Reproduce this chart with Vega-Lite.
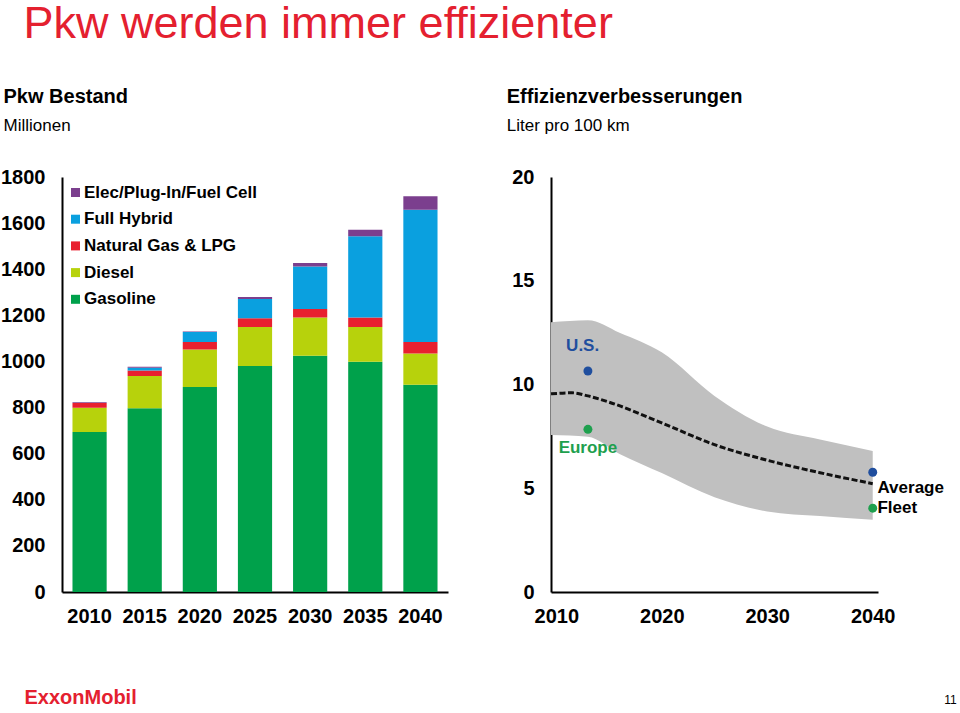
{
  "$schema": "https://vega.github.io/schema/vega-lite/v6.json",
  "background": "white",
  "padding": {"left": 0, "top": 2, "right": 0, "bottom": 0},
  "title": {
    "text": "Pkw werden immer effizienter",
    "anchor": "start",
    "font": "Liberation Sans",
    "fontSize": 45,
    "fontWeight": "normal",
    "color": "#E4202F",
    "dx": 23,
    "offset": 40
  },
  "spacing": 58,
  "resolve": {"scale": {"color": "independent"}, "legend": {"color": "independent"}},
  "hconcat": [
    {
      "width": 386,
      "height": 415,
      "title": {
        "text": "Pkw Bestand",
        "subtitle": "Millionen",
        "anchor": "start",
        "frame": "bounds",
        "font": "Liberation Sans",
        "fontSize": 20,
        "fontWeight": "bold",
        "color": "black",
        "subtitleFont": "Liberation Sans",
        "subtitleFontSize": 17,
        "subtitleColor": "black",
        "subtitlePadding": 11,
        "offset": 33,
        "dx": 3
      },
      "data": {
        "values": [
          {"year": "2010", "type": "Gasoline", "rank": 1, "value": 694},
          {"year": "2010", "type": "Diesel", "rank": 2, "value": 105},
          {"year": "2010", "type": "Natural Gas & LPG", "rank": 3, "value": 21},
          {"year": "2010", "type": "Full Hybrid", "rank": 4, "value": 0},
          {"year": "2010", "type": "Elec/Plug-In/Fuel Cell", "rank": 5, "value": 3},
          {"year": "2015", "type": "Gasoline", "rank": 1, "value": 797},
          {"year": "2015", "type": "Diesel", "rank": 2, "value": 140},
          {"year": "2015", "type": "Natural Gas & LPG", "rank": 3, "value": 24},
          {"year": "2015", "type": "Full Hybrid", "rank": 4, "value": 12},
          {"year": "2015", "type": "Elec/Plug-In/Fuel Cell", "rank": 5, "value": 4},
          {"year": "2020", "type": "Gasoline", "rank": 1, "value": 889},
          {"year": "2020", "type": "Diesel", "rank": 2, "value": 163},
          {"year": "2020", "type": "Natural Gas & LPG", "rank": 3, "value": 32},
          {"year": "2020", "type": "Full Hybrid", "rank": 4, "value": 44},
          {"year": "2020", "type": "Elec/Plug-In/Fuel Cell", "rank": 5, "value": 2},
          {"year": "2025", "type": "Gasoline", "rank": 1, "value": 980},
          {"year": "2025", "type": "Diesel", "rank": 2, "value": 169},
          {"year": "2025", "type": "Natural Gas & LPG", "rank": 3, "value": 38},
          {"year": "2025", "type": "Full Hybrid", "rank": 4, "value": 84},
          {"year": "2025", "type": "Elec/Plug-In/Fuel Cell", "rank": 5, "value": 8},
          {"year": "2030", "type": "Gasoline", "rank": 1, "value": 1025},
          {"year": "2030", "type": "Diesel", "rank": 2, "value": 166},
          {"year": "2030", "type": "Natural Gas & LPG", "rank": 3, "value": 36},
          {"year": "2030", "type": "Full Hybrid", "rank": 4, "value": 185},
          {"year": "2030", "type": "Elec/Plug-In/Fuel Cell", "rank": 5, "value": 15},
          {"year": "2035", "type": "Gasoline", "rank": 1, "value": 999},
          {"year": "2035", "type": "Diesel", "rank": 2, "value": 150},
          {"year": "2035", "type": "Natural Gas & LPG", "rank": 3, "value": 42},
          {"year": "2035", "type": "Full Hybrid", "rank": 4, "value": 352},
          {"year": "2035", "type": "Elec/Plug-In/Fuel Cell", "rank": 5, "value": 28},
          {"year": "2040", "type": "Gasoline", "rank": 1, "value": 899},
          {"year": "2040", "type": "Diesel", "rank": 2, "value": 136},
          {"year": "2040", "type": "Natural Gas & LPG", "rank": 3, "value": 49},
          {"year": "2040", "type": "Full Hybrid", "rank": 4, "value": 574},
          {"year": "2040", "type": "Elec/Plug-In/Fuel Cell", "rank": 5, "value": 59}
        ]
      },
      "mark": {"type": "bar"},
      "encoding": {
        "x": {
          "field": "year",
          "type": "ordinal",
          "scale": {"paddingInner": 0.38, "paddingOuter": 0.19},
          "axis": {
            "labelAngle": 0,
            "labelPadding": 14,
            "title": "ExxonMobil",
            "titleColor": "#E4202F",
            "titleFont": "Liberation Sans",
            "titleFontSize": 20,
            "titleFontWeight": "bold",
            "titleAnchor": "start",
            "titleAlign": "left",
            "titleBaseline": "alphabetic",
            "titleX": -38,
            "titleY": 111
          }
        },
        "y": {
          "field": "value",
          "type": "quantitative",
          "stack": "zero",
          "scale": {"domain": [0, 1800], "nice": false},
          "axis": {
            "values": [0, 200, 400, 600, 800, 1000, 1200, 1400, 1600, 1800],
            "format": "d",
            "title": null,
            "labelPadding": 17
          }
        },
        "color": {
          "field": "type",
          "type": "nominal",
          "scale": {
            "domain": ["Elec/Plug-In/Fuel Cell", "Full Hybrid", "Natural Gas & LPG", "Diesel", "Gasoline"],
            "range": ["#7B3F8E", "#0AA0DF", "#E8202F", "#B7D20C", "#00A14B"]
          },
          "legend": {
            "orient": "none",
            "legendX": 5,
            "legendY": 7,
            "title": null,
            "padding": 0,
            "symbolType": "square",
            "symbolSize": 81,
            "symbolStrokeWidth": 0,
            "symbolOpacity": 1,
            "labelFont": "Liberation Sans",
            "labelFontSize": 17,
            "labelFontWeight": "bold",
            "labelColor": "black",
            "labelOffset": 0,
            "rowPadding": 8.7,
            "labelLimit": 400
          }
        },
        "order": {"field": "rank", "type": "quantitative"}
      }
    },
    {
      "width": 327,
      "height": 415,
      "title": {
        "text": "Effizienzverbesserungen",
        "subtitle": "Liter pro 100 km",
        "anchor": "start",
        "frame": "bounds",
        "font": "Liberation Sans",
        "fontSize": 20,
        "fontWeight": "bold",
        "color": "black",
        "subtitleFont": "Liberation Sans",
        "subtitleFontSize": 17,
        "subtitleColor": "black",
        "subtitlePadding": 11,
        "offset": 33,
        "dx": -5
      },
      "encoding": {
        "x": {
          "field": "year",
          "type": "quantitative",
          "scale": {"domain": [2009.5, 2040.5], "nice": false, "zero": false},
          "axis": {
            "values": [2010, 2020, 2030, 2040],
            "format": "d",
            "labelPadding": 14,
            "labelFlush": false,
            "title": "11",
            "titleFont": "Liberation Sans",
            "titleFontSize": 12,
            "titleFontWeight": "normal",
            "titleColor": "black",
            "titleAlign": "center",
            "titleBaseline": "alphabetic",
            "titleX": 399,
            "titleY": 111
          }
        },
        "y": {
          "field": "value",
          "type": "quantitative",
          "scale": {"domain": [0, 20], "nice": false},
          "axis": {"values": [0, 5, 10, 15, 20], "title": null, "labelPadding": 17}
        }
      },
      "layer": [
        {
          "data": {
            "values": [
              {"year": 2009.5, "value": 13.0, "value2": 7.57},
              {"year": 2013, "value": 13.1, "value2": 7.48},
              {"year": 2016, "value": 12.5, "value2": 6.65},
              {"year": 2020, "value": 11.55, "value2": 5.73},
              {"year": 2025, "value": 9.45, "value2": 4.57},
              {"year": 2030, "value": 7.97, "value2": 3.88},
              {"year": 2035, "value": 7.35, "value2": 3.66},
              {"year": 2040, "value": 6.8, "value2": 3.48}
            ]
          },
          "mark": {"type": "area", "color": "#C0C0C0", "opacity": 1, "interpolate": "monotone"},
          "encoding": {"y2": {"field": "value2"}}
        },
        {
          "data": {
            "values": [
              {"year": 2009.5, "value": 9.55},
              {"year": 2011.5, "value": 9.6},
              {"year": 2013, "value": 9.45},
              {"year": 2015, "value": 9.15},
              {"year": 2020, "value": 8.15},
              {"year": 2025, "value": 7.1},
              {"year": 2030, "value": 6.35},
              {"year": 2035, "value": 5.75},
              {"year": 2040, "value": 5.22}
            ]
          },
          "mark": {"type": "line", "color": "#111111", "strokeWidth": 3, "strokeDash": [6, 2.5], "interpolate": "monotone"},
          "encoding": {}
        },
        {
          "data": {
            "values": [
              {"year": 2013, "value": 10.65, "region": "U.S."},
              {"year": 2013, "value": 7.84, "region": "Europe"},
              {"year": 2040, "value": 5.77, "region": "U.S."},
              {"year": 2040, "value": 4.04, "region": "Europe"}
            ]
          },
          "mark": {"type": "point", "filled": true, "size": 80, "opacity": 1},
          "encoding": {
            "color": {
              "field": "region",
              "type": "nominal",
              "scale": {"domain": ["U.S.", "Europe"], "range": ["#1F4E9E", "#1EA04E"]},
              "legend": null
            }
          }
        },
        {
          "data": {
            "values": [
              {"year": 2012.5, "value": 11.85, "region": "U.S.", "label": "U.S."},
              {"year": 2013, "value": 6.93, "region": "Europe", "label": "Europe"}
            ]
          },
          "mark": {"type": "text", "font": "Liberation Sans", "fontSize": 17, "fontWeight": "bold"},
          "encoding": {
            "text": {"field": "label"},
            "color": {"field": "region", "type": "nominal", "legend": null}
          }
        },
        {
          "data": {
            "values": [
              {"year": 2040.45, "value": 5.0, "label": "Average"},
              {"year": 2040.45, "value": 4.04, "label": "Fleet"}
            ]
          },
          "mark": {"type": "text", "font": "Liberation Sans", "fontSize": 17, "fontWeight": "bold", "align": "left", "color": "black"},
          "encoding": {"text": {"field": "label"}}
        }
      ]
    }
  ],
  "config": {
    "view": {"stroke": null},
    "font": "Liberation Sans",
    "axis": {
      "labelFont": "Liberation Sans",
      "labelFontSize": 20,
      "labelFontWeight": "bold",
      "labelColor": "black",
      "domainColor": "black",
      "domainWidth": 2,
      "ticks": false,
      "tickSize": 0,
      "grid": false
    }
  }
}
